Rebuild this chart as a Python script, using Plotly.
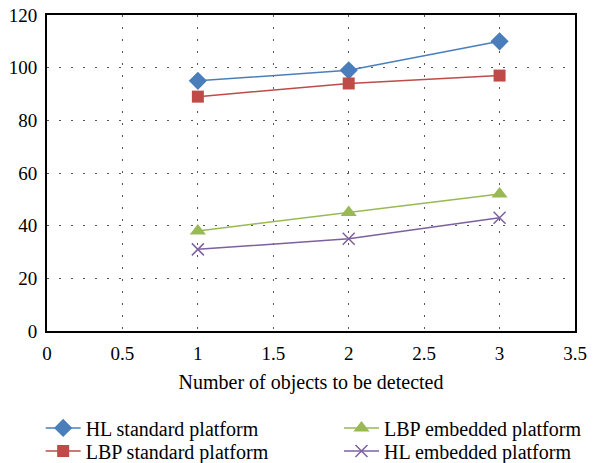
import plotly.graph_objects as go

x_vals = [1, 2, 3]
hl_standard = [95, 99, 110]
lbp_standard = [89, 94, 97]
lbp_embedded = [38, 45, 52]
hl_embedded = [31, 35, 43]

x_ticks = [0, 0.5, 1, 1.5, 2, 2.5, 3, 3.5]
x_tick_labels = ["0", "0.5", "1", "1.5", "2", "2.5", "3", "3.5"]
y_ticks = [0, 20, 40, 60, 80, 100, 120]

FONT = "Liberation Serif"

fig = go.Figure()
fig.add_trace(go.Scatter(x=x_vals, y=hl_standard, name="HL standard platform", mode="lines+markers",
                         line=dict(color="#4a7ebb", width=1.5),
                         marker=dict(symbol="diamond", size=14, color="#4a7ebb"), legend="legend"))
fig.add_trace(go.Scatter(x=x_vals, y=lbp_standard, name="LBP standard platform", mode="lines+markers",
                         line=dict(color="#be4b48", width=1.5),
                         marker=dict(symbol="square", size=12, color="#be4b48"), legend="legend3"))
fig.add_trace(go.Scatter(x=x_vals, y=lbp_embedded, name="LBP embedded platform", mode="lines+markers",
                         line=dict(color="#98b954", width=1.5),
                         marker=dict(symbol="triangle-up", size=14, color="#98b954"), legend="legend2"))
fig.add_trace(go.Scatter(x=x_vals, y=hl_embedded, name="HL embedded platform", mode="lines+markers",
                         line=dict(color="#7d60a0", width=1.5),
                         marker=dict(symbol="x-thin", size=12, color="#7d60a0",
                                     line=dict(color="#7d60a0", width=1.5)), legend="legend4"))

axis_common = dict(showline=True, linecolor="black", linewidth=2, mirror=True,
                   showgrid=True, gridcolor="#555555", gridwidth=1, griddash="2px,10px",
                   zeroline=False, ticks="", automargin=False, ticklabeloverflow="allow",
                   tickfont=dict(family=FONT, size=19, color="black"))

legend_common = dict(orientation="v", font=dict(family=FONT, size=20), tracegroupgap=0,
                     itemwidth=35, bgcolor="rgba(0,0,0,0)")

# page body has an 8px default margin; compensate so the plot lands where the reference has it
fig.update_layout(
    width=597, height=455,
    margin=dict(l=39, r=30, t=7, b=132, autoexpand=False),
    paper_bgcolor="white", plot_bgcolor="white",
    font=dict(family=FONT, size=20, color="black"),
    xaxis=dict(range=[0, 3.5], tickvals=x_ticks, ticktext=x_tick_labels, ticklabelstandoff=4,
               title=dict(text="Number of objects to be detected", font=dict(family=FONT, size=20), standoff=12),
               **axis_common),
    yaxis=dict(range=[0, 120], tickvals=y_ticks, ticklabelstandoff=4, **axis_common),
    legend=dict(x=-0.012, y=-0.245, xanchor="left", yanchor="top", **legend_common),
    legend2=dict(x=0.553, y=-0.245, xanchor="left", yanchor="top", **legend_common),
    legend3=dict(x=-0.012, y=-0.318, xanchor="left", yanchor="top", **legend_common),
    legend4=dict(x=0.553, y=-0.318, xanchor="left", yanchor="top", **legend_common),
    showlegend=True,
)

fig.write_html("out.html")
